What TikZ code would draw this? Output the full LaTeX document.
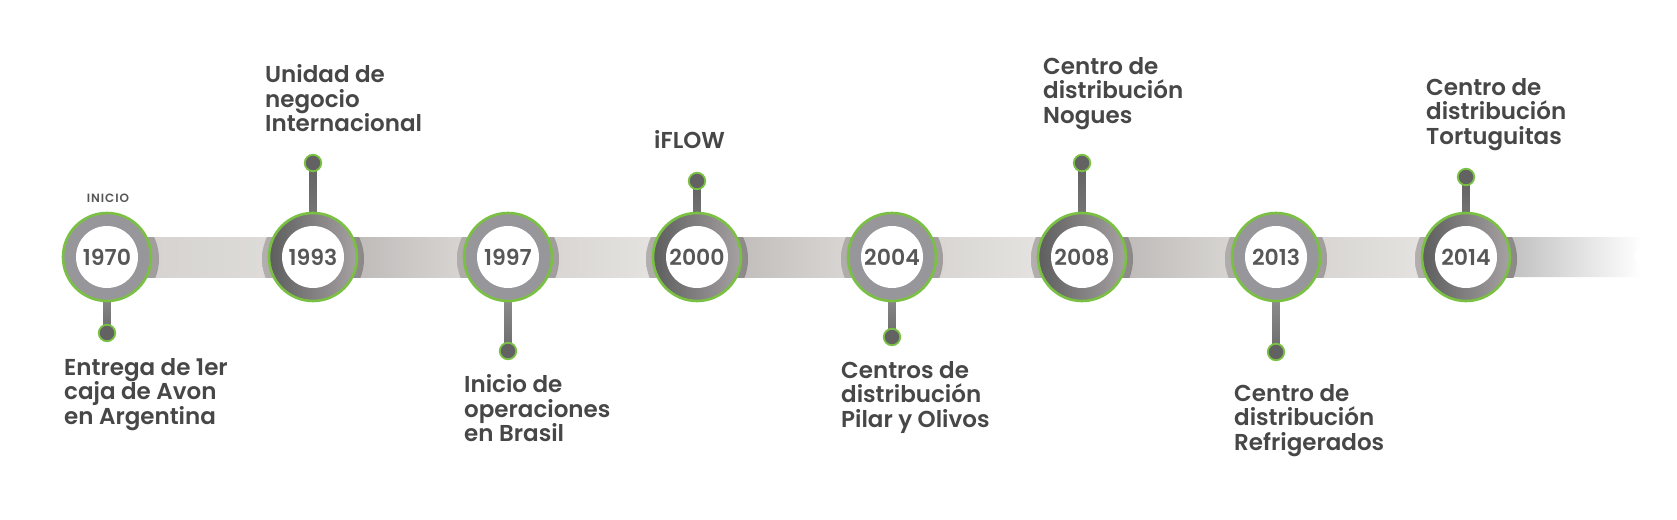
\documentclass[tikz,border=0pt]{standalone}
\usepackage{fontspec}
\setmainfont{Poppins}[BoldFont={Poppins SemiBold}]
\usetikzlibrary{calc}
\definecolor{tlgreen}{HTML}{7AC143}
\definecolor{txtgray}{HTML}{474747}
\definecolor{yeargray}{HTML}{575757}
\definecolor{ringA}{HTML}{97979B}
\definecolor{ringBl}{HTML}{5E5E5E}
\definecolor{ringBr}{HTML}{A6A1A3}
\definecolor{knobgray}{HTML}{626262}
\definecolor{barA}{HTML}{D3D0CD}
\definecolor{barAe}{HTML}{EAE8E6}
\definecolor{barB}{HTML}{B4B0AF}
\definecolor{barBe}{HTML}{E2E0DD}
\definecolor{shAl}{HTML}{B0ACAB}
\definecolor{shAr}{HTML}{A19D9C}
\definecolor{shBl}{HTML}{B3AFAE}
\definecolor{shBr}{HTML}{8C8888}
\pgfdeclarelayer{bg}
\pgfsetlayers{bg,main}
\newcommand{\lblfont}{\bfseries\fontsize{23}{24.6}\selectfont}
\newcommand{\lbltext}[1]{\parbox[t]{240pt}{\raggedright #1}}
\tikzset{
  lbl/.style={anchor=base west, inner sep=0pt, text=txtgray, font=\lblfont},
  ringa/.style={circle, minimum size=88pt, inner sep=0pt, fill=ringA, draw=tlgreen, line width=2.6pt},
  ringb/.style={circle, minimum size=88pt, inner sep=0pt, left color=ringBl, right color=ringBr, draw=tlgreen, line width=2.6pt},
  hole/.style={circle, minimum size=62pt, inner sep=0pt, fill=white, text=yeargray, font=\bfseries\fontsize{22}{22}\selectfont},
  knob/.style={circle, minimum size=16.5pt, inner sep=0pt, fill=knobgray, draw=tlgreen, line width=1.8pt},
  stemup/.style={top color=knobgray, bottom color=black!48},
  stemdown/.style={top color=black!35, bottom color=black!58},
}
\begin{document}
\begin{tikzpicture}[x=1pt,y=-1pt]
\useasboundingbox (0,0) rectangle (1677,519);

% circles
\node[ringa] (c1970) at (107,257) {};
\node[ringb] (c1993) at (313,257) {};
\node[ringa] (c1997) at (508,257) {};
\node[ringb] (c2000) at (697,257) {};
\node[ringa] (c2004) at (892,257) {};
\node[ringb] (c2008) at (1082,257) {};
\node[ringa] (c2013) at (1276,257) {};
\node[ringb] (c2014) at (1466,257) {};
\node[hole] (y1970) at (c1970) {1970};
\node[hole] (y1993) at (c1993) {1993};
\node[hole] (y1997) at (c1997) {1997};
\node[hole] (y2000) at (c2000) {2000};
\node[hole] (y2004) at (c2004) {2004};
\node[hole] (y2008) at (c2008) {2008};
\node[hole] (y2013) at (c2013) {2013};
\node[hole] (y2014) at (c2014) {2014};

% knobs
\node[knob] (k1970) at (107,333) {};
\node[knob] (k1993) at (313,163) {};
\node[knob] (k1997) at (508,351) {};
\node[knob] (k2000) at (697,181) {};
\node[knob] (k2004) at (892,337) {};
\node[knob] (k2008) at (1082,163) {};
\node[knob] (k2013) at (1276,352) {};
\node[knob] (k2014) at (1466,177) {};

\begin{pgfonlayer}{bg}
  \fill[white] (0,0) rectangle (1677,519);
  % bar
  \shade[left color=barA, right color=barA!70!white] (107,237) rectangle (313,277);
  \shade[left color=barB, right color=barBe] (313,237) rectangle (508,277);
  \shade[left color=barA, right color=barAe] (508,237) rectangle (697,277);
  \shade[left color=barB!95!white, right color=barBe] (697,237) rectangle (892,277);
  \shade[left color=barA, right color=barAe] (892,237) rectangle (1082,277);
  \shade[left color=barB, right color=barBe] (1082,237) rectangle (1276,277);
  \shade[left color=barA, right color=barAe] (1276,237) rectangle (1466,277);
  \shade[left color=black!33, right color=white] (1466,237) -- (1642,237) -- (1634,257) -- (1642,277) -- (1466,277) -- cycle;
  % shadows
  \begin{scope}
    \clip (107,237) rectangle (1677,277);
    \shade[left color=shAl, right color=shAr] ($(c1970)+(1,2)$) circle[radius=51];
    \shade[left color=shBl, right color=shBr] ($(c1993)+(0,2)$) circle[radius=51];
    \shade[left color=shAl, right color=shAr] ($(c1997)+(0,2)$) circle[radius=51];
    \shade[left color=shBl, right color=shBr] ($(c2000)+(0,2)$) circle[radius=51];
    \shade[left color=shAl, right color=shAr] ($(c2004)+(0,2)$) circle[radius=51];
    \shade[left color=shBl, right color=shBr] ($(c2008)+(0,2)$) circle[radius=51];
    \shade[left color=shAl, right color=shAr] ($(c2013)+(0,2)$) circle[radius=51];
    \shade[left color=shBl, right color=shBr] ($(c2014)+(0,2)$) circle[radius=51];
  \end{scope}
  % stems
  \shade[stemdown] ($(c1970.center)+(-3.5,0)$) rectangle ($(k1970.center)+(3.5,0)$);
  \shade[stemup] ($(k1993.center)+(-3.5,0)$) rectangle ($(c1993.center)+(3.5,0)$);
  \shade[stemdown] ($(c1997.center)+(-3.5,0)$) rectangle ($(k1997.center)+(3.5,0)$);
  \shade[stemup] ($(k2000.center)+(-3.5,0)$) rectangle ($(c2000.center)+(3.5,0)$);
  \shade[stemdown] ($(c2004.center)+(-3.5,0)$) rectangle ($(k2004.center)+(3.5,0)$);
  \shade[stemup] ($(k2008.center)+(-3.5,0)$) rectangle ($(c2008.center)+(3.5,0)$);
  \shade[stemdown] ($(c2013.center)+(-3.5,0)$) rectangle ($(k2013.center)+(3.5,0)$);
  \shade[stemup] ($(k2014.center)+(-3.5,0)$) rectangle ($(c2014.center)+(3.5,0)$);
\end{pgfonlayer}

% labels
\node[anchor=base, inner sep=0pt, text=yeargray, font=\bfseries\fontsize{12}{12}\selectfont\addfontfeature{LetterSpace=8}] (inicio) at (108,202.5) {INICIO};
\node[lbl] (t1970) at (64,375) {\lbltext{Entrega de 1er\\caja de Avon\\en Argentina}};
\node[lbl] (t1993) at (265,82.7) {\lbltext{Unidad de\\negocio\\Internacional}};
\node[lbl] (t1997) at (464,392.7) {\lbltext{Inicio de\\operaciones\\en Brasil}};
\node[lbl] (t2000) at (654,148.5) {\lbltext{iFLOW}};
\node[lbl] (t2004) at (841,378.3) {\lbltext{Centros de\\distribución\\Pilar y Olivos}};
\node[lbl] (t2008) at (1043,74.3) {\lbltext{Centro de\\distribución\\Nogues}};
\node[lbl] (t2013) at (1234,401) {\lbltext{Centro de\\distribución\\Refrigerados}};
\node[lbl] (t2014) at (1426,95) {\lbltext{Centro de\\distribución\\Tortuguitas}};
\end{tikzpicture}
\end{document}
